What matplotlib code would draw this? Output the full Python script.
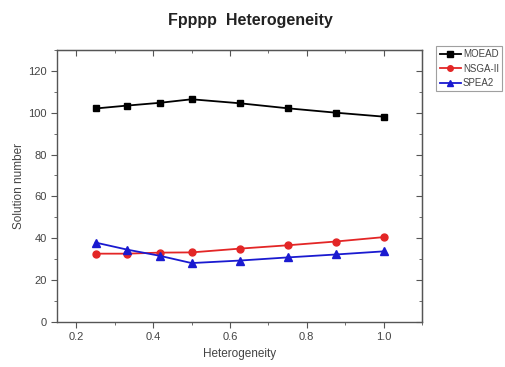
import matplotlib.pyplot as plt
from matplotlib.ticker import MultipleLocator

plt.rcParams['font.family'] = ['Liberation Sans', 'DejaVu Sans']

heterogeneity = [0.25, 0.333, 0.4167, 0.5, 0.625, 0.75, 0.875, 1.0]
moead = [102.0, 103.4, 104.7, 106.4, 104.5, 102.1, 100.0, 98.1]
nsga2 = [32.6, 32.6, 33.1, 33.2, 35.0, 36.6, 38.4, 40.5]
spea2 = [37.9, 34.5, 31.6, 28.1, 29.3, 30.8, 32.2, 33.7]

axis_col = '#555555'
text_col = '#444444'

fig = plt.figure(figsize=(5.06, 3.67), dpi=100)
ax = fig.add_axes([0.113, 0.123, 0.721, 0.741])

ax.plot(heterogeneity, moead, color='black', marker='s', ms=5, lw=1.3, label='MOEAD')
ax.plot(heterogeneity, nsga2, color='#e32626', marker='o', ms=5, lw=1.3, label='NSGA-II')
ax.plot(heterogeneity, spea2, color='#1a1ad0', marker='^', ms=5.5, lw=1.3, label='SPEA2')

ax.set_xlim(0.15, 1.1)
ax.set_ylim(0, 130)
ax.xaxis.set_major_locator(MultipleLocator(0.2))
ax.xaxis.set_minor_locator(MultipleLocator(0.1))
ax.yaxis.set_major_locator(MultipleLocator(20))
ax.yaxis.set_minor_locator(MultipleLocator(10))
ax.xaxis.set_major_formatter(lambda v, p: f'{v:.1f}')

for s in ax.spines.values():
    s.set_color(axis_col)
    s.set_linewidth(1.0)
ax.tick_params(which='both', direction='out', colors=axis_col, labelcolor=text_col, labelsize=8)
ax.tick_params(which='major', length=4)
ax.tick_params(which='minor', length=2.5)

# inward ticks on top and right, like the original
top = ax.secondary_xaxis('top')
top.xaxis.set_major_locator(MultipleLocator(0.2))
top.xaxis.set_minor_locator(MultipleLocator(0.1))
top.tick_params(which='both', direction='in', colors=axis_col, labeltop=False)
top.tick_params(which='major', length=4)
top.tick_params(which='minor', length=2.5)
top.spines['top'].set_color(axis_col)
right = ax.secondary_yaxis('right')
right.yaxis.set_major_locator(MultipleLocator(20))
right.yaxis.set_minor_locator(MultipleLocator(10))
right.tick_params(which='both', direction='in', colors=axis_col, labelright=False)
right.tick_params(which='major', length=4)
right.tick_params(which='minor', length=2.5)
right.spines['right'].set_color(axis_col)

ax.set_xlabel('Heterogeneity', fontsize=8.5, color=text_col)
ax.set_ylabel('Solution number', fontsize=8.5, color=text_col, labelpad=2)
fig.text(0.494, 0.945, 'Fpppp  Heterogeneity', ha='center', va='center',
         fontsize=11.5, fontweight='bold', color='#222222')

leg = fig.legend(loc='upper left', bbox_to_anchor=(0.862, 0.875), fontsize=7,
                 frameon=True, fancybox=False, handlelength=2.2, handletextpad=0.2,
                 borderpad=0.35, labelspacing=0.45, borderaxespad=0, markerscale=0.8)
leg.get_frame().set_edgecolor('#888888')
leg.get_frame().set_linewidth(0.8)
for t in leg.get_texts():
    t.set_color(text_col)

plt.savefig('out.png', dpi=100)
